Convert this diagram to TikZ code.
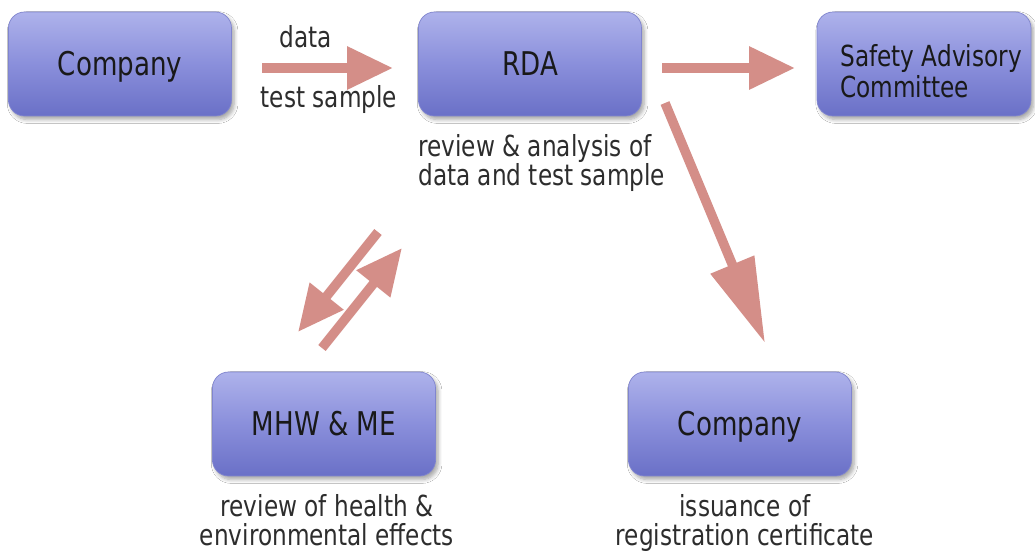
\documentclass[tikz,border=0pt]{standalone}
\usepackage{fontspec}
\setmainfont[FakeStretch=0.8]{DejaVu Sans}
\usetikzlibrary{arrows.meta,shadows.blur}
\definecolor{arr}{RGB}{212,142,136}
\definecolor{btop}{RGB}{174,178,235}
\definecolor{bmid}{RGB}{138,143,219}
\definecolor{bbot}{RGB}{106,112,199}
\definecolor{txt}{RGB}{25,25,25}
\definecolor{lbl}{RGB}{45,45,45}
\begin{document}
\begin{tikzpicture}[x=0.02cm,y=-0.02cm,
  box/.style={rectangle, rounded corners=0.32cm, top color=btop, bottom color=bbot, middle color=bmid,
    draw=bbot!85!white, line width=0.4pt, text=txt, inner sep=0pt,
    minimum width=4.46cm, minimum height=2.08cm,
    font=\fontsize{18.6}{21}\selectfont, text height=13.6pt, text depth=0pt,
    blur shadow={shadow xshift=1.5pt, shadow yshift=-2pt, shadow blur steps=6, shadow opacity=35}},
  lab/.style={text=lbl, inner sep=0pt, font=\fontsize{16.5}{16.3}\selectfont},
  flow/.style={draw=arr, line width=0.19cm, -{Triangle[width=0.82cm,length=0.92cm]}},
  longflow/.style={draw=arr, line width=0.19cm, -{Triangle[width=0.9cm,length=1.7cm]}}]
\useasboundingbox[fill=white] (0,0) rectangle (1035,552);
% boxes
\node[box] (c1) at (120,64) {Company};
\node[box] (rda) at (530,64) {RDA};
\node[box, minimum width=4.28cm] (sac) at (924,64) {};
\node[anchor=north west, align=left, inner sep=0pt, text=txt, font=\fontsize{16.5}{17.6}\selectfont] (sactxt) at (840,44) {Safety Advisory\\Committee};
\node[box] (mhw) at (324,424) {MHW \& ME};
\node[box] (c2) at (740,424) {Company};
% arrow end points
\coordinate (a1s) at (262,68);
\coordinate (a1e) at (393,68);
\coordinate (a2s) at (662,68);
\coordinate (a2e) at (795,68);
\coordinate (a3s) at (665,103);
\coordinate (a3e) at (765,343);
\coordinate (a4s) at (378,232);
\coordinate (a4e) at (298,332);
\coordinate (a5s) at (322,348);
\coordinate (a5e) at (402,248);
\draw[flow] (a1s) -- (a1e);
\draw[flow] (a2s) -- (a2e);
\draw[longflow] (a3s) -- (a3e);
\draw[flow] (a4s) -- (a4e);
\draw[flow] (a5s) -- (a5e);
% labels
\node[lab, anchor=base] (ldata) at (306,47) {data};
\node[lab, anchor=base] (ltest) at (329,107) {test sample};
\node[lab, anchor=north west, align=left] (lrda) at (418,134) {review \& analysis of\\data and test sample};
\node[lab, anchor=north, align=center] (lmhw) at (327,494) {review of health \&\\environmental effects};
\node[lab, anchor=north, align=center] (lc2) at (745,494) {issuance of\\registration certificate};
\end{tikzpicture}
\end{document}
